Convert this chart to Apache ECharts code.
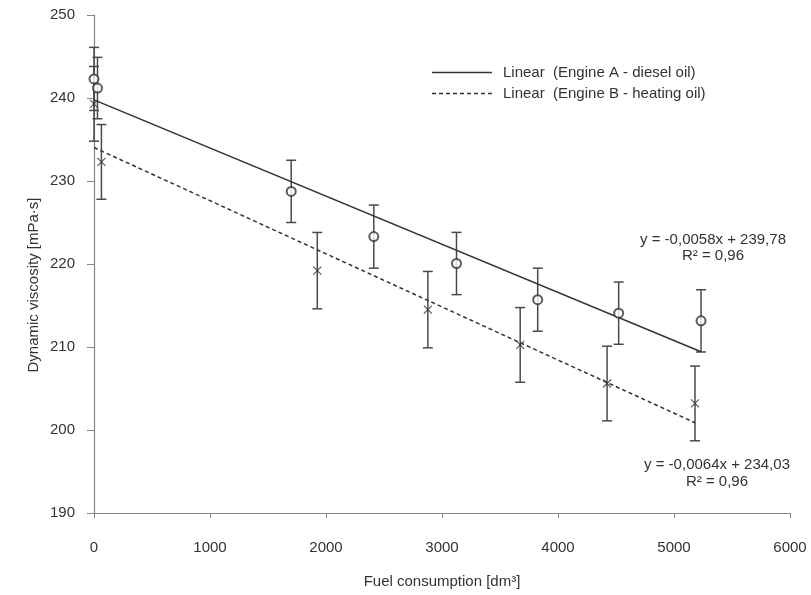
<!DOCTYPE html>
<html>
<head>
<meta charset="utf-8">
<script src="https://cdn.jsdelivr.net/npm/echarts@6/dist/echarts.min.js"></script>
<style>
  html, body { margin: 0; padding: 0; background: #fff; }
  #chart { width: 811px; height: 595px; }
</style>
</head>
<body>
<div id="chart"></div>
<script>
// Engine A - diesel oil (circles)
const xA = [0, 30, 1700, 2412, 3125, 3825, 4523, 5233]
const yA = [242.3, 241.2, 228.75, 223.3, 220.06, 215.7, 214.08, 213.15]
const errA = [3.8, 3.7, 3.75, 3.8, 3.75, 3.8, 3.75, 3.75]

// Engine B - heating oil (crosses)
const xB = [0, 64, 1925, 2878, 3674, 4423, 5181]
const yB = [239.3, 232.3, 219.2, 214.5, 210.25, 205.6, 203.2]
const errB = [4.5, 4.5, 4.6, 4.6, 4.5, 4.5, 4.5]

// trend line end points, from y = -0,0058x + 239,78 and y = -0,0064x + 234,03
const trendA = [[0, 239.78], [5233, 209.43]]
const trendB = [[0, 234.03], [5181, 200.87]]

const xTicks = { min: 0, max: 6000, interval: 1000 }
const yTicks = { min: 190, max: 250, interval: 10 }

const FONT = "'Liberation Sans', Arial, sans-serif"
const TEXT = '#333'
const AXIS = '#868686'

// legend icons: plain solid line and a dashed line (no marker dot)
const solidIcon = 'path://M0,0h60v1.5h-60z'
let dashed = ''
for (let i = 0; i < 60; i += 7) dashed += 'M' + i + ',0h4v1.5h-4z'
const dashIcon = 'path://' + dashed

const chart = echarts.init(document.getElementById('chart'))

function pairs(xs, ys) {
  return xs.map((x, i) => [x, ys[i]])
}

function errData(xs, ys, es) {
  return xs.map((x, i) => [x, ys[i] - es[i], ys[i] + es[i]])
}

function renderErr(params, api) {
  const lo = api.coord([api.value(0), api.value(1)])
  const hi = api.coord([api.value(0), api.value(2)])
  const w = 5
  const style = { stroke: '#4a4a4a', lineWidth: 1.5 }
  return {
    type: 'group',
    children: [
      { type: 'line', shape: { x1: lo[0], y1: lo[1], x2: hi[0], y2: hi[1] }, style },
      { type: 'line', shape: { x1: lo[0] - w, y1: lo[1], x2: lo[0] + w, y2: lo[1] }, style },
      { type: 'line', shape: { x1: hi[0] - w, y1: hi[1], x2: hi[0] + w, y2: hi[1] }, style }
    ]
  }
}

chart.setOption({
  animation: false,
  textStyle: { fontFamily: FONT },
  grid: { left: 94, right: 21, top: 15, bottom: 82 },
  legend: {
    orient: 'vertical',
    left: 432,
    top: 65,
    padding: 0,
    itemWidth: 60,
    itemHeight: 14,
    itemGap: 6,
    textStyle: { fontFamily: FONT, fontSize: 15, color: TEXT, padding: [0, 0, 0, 6] },
    data: [
      { name: 'Linear  (Engine A - diesel oil)', icon: solidIcon },
      { name: 'Linear  (Engine B - heating oil)', icon: dashIcon }
    ]
  },
  xAxis: {
    type: 'value',
    min: xTicks.min, max: xTicks.max, interval: xTicks.interval,
    axisLine: { lineStyle: { color: AXIS, width: 1.2 } },
    axisTick: { show: true, length: 5, lineStyle: { color: AXIS } },
    axisLabel: { color: TEXT, fontSize: 15, margin: 27, fontFamily: FONT, formatter: v => String(v) },
    splitLine: { show: false }
  },
  yAxis: {
    type: 'value',
    min: yTicks.min, max: yTicks.max, interval: yTicks.interval,
    axisLine: { show: true, lineStyle: { color: AXIS, width: 1.2 } },
    axisTick: { show: true, length: 7, lineStyle: { color: AXIS } },
    axisLabel: { color: TEXT, fontSize: 15, margin: 19, fontFamily: FONT },
    splitLine: { show: false }
  },
  graphic: [
    { type: 'text', x: 442, y: 582, style: { text: 'Fuel consumption [dm³]', fill: TEXT, font: '15px ' + FONT, align: 'center', verticalAlign: 'middle' } },
    { type: 'text', x: 34, y: 285, rotation: Math.PI / 2, style: { text: 'Dynamic viscosity [mPa·s]', fill: TEXT, font: '15px ' + FONT, align: 'center', verticalAlign: 'middle' } },
    { type: 'text', x: 713, y: 240, style: { text: 'y = -0,0058x + 239,78', fill: TEXT, font: '15px ' + FONT, align: 'center', verticalAlign: 'middle' } },
    { type: 'text', x: 713, y: 256, style: { text: 'R² = 0,96', fill: TEXT, font: '15px ' + FONT, align: 'center', verticalAlign: 'middle' } },
    { type: 'text', x: 717, y: 465, style: { text: 'y = -0,0064x + 234,03', fill: TEXT, font: '15px ' + FONT, align: 'center', verticalAlign: 'middle' } },
    { type: 'text', x: 717, y: 482, style: { text: 'R² = 0,96', fill: TEXT, font: '15px ' + FONT, align: 'center', verticalAlign: 'middle' } }
  ],
  series: [
    {
      type: 'custom', name: 'errA', renderItem: renderErr, z: 1,
      data: errData(xA, yA, errA)
    },
    {
      type: 'custom', name: 'errB', renderItem: renderErr, z: 1,
      data: errData(xB, yB, errB)
    },
    {
      name: 'Linear  (Engine A - diesel oil)', type: 'line', z: 2,
      symbol: 'none', data: trendA,
      lineStyle: { color: '#333', width: 1.5 },
      itemStyle: { color: '#333' }
    },
    {
      name: 'Linear  (Engine B - heating oil)', type: 'line', z: 2,
      symbol: 'none', data: trendB,
      lineStyle: { color: '#333', width: 1.5, type: [4, 3] },
      itemStyle: { color: '#333' }
    },
    {
      name: 'Engine A - diesel oil', type: 'scatter', z: 3,
      symbol: 'emptyCircle', symbolSize: 9,
      itemStyle: { color: '#333', borderWidth: 1 },
      data: pairs(xA, yA)
    },
    {
      name: 'Engine B - heating oil', type: 'scatter', z: 3,
      symbol: 'path://M0 0L10 10M10 0L0 10', symbolSize: 8,
      itemStyle: { color: 'transparent', borderColor: '#333', borderWidth: 1.2 },
      data: pairs(xB, yB)
    }
  ]
})
</script>
</body>
</html>
